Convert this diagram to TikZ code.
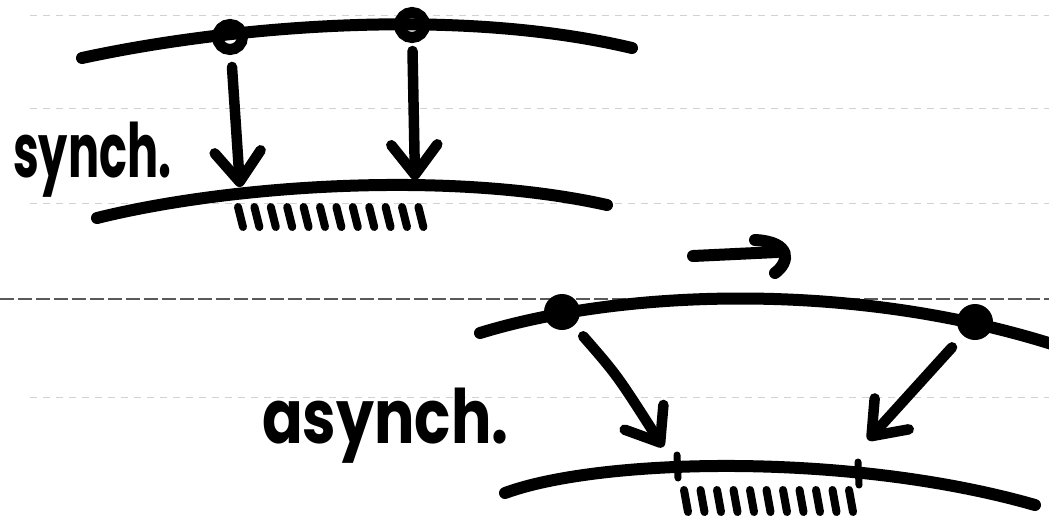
\documentclass[tikz,border=0pt]{standalone}
\usepackage{fontspec}
\newfontfamily\handfont{Poppins}
\usetikzlibrary{arrows.meta}
\begin{document}
\begin{tikzpicture}[x=1pt,y=-1pt,
  ink/.style={line width=12pt, line cap=round, black},
  hookink/.style={line width=12pt, line cap=round, black},
  hatch/.style={line width=8pt, line cap=round, black},
  tickmark/.style={line width=7pt, line cap=round, black},
  hollowdot/.style={circle, draw, line width=11pt, minimum size=25pt, inner sep=0pt},
  soliddot/.style={circle, fill=black, minimum size=36pt, inner sep=0pt},
  arr/.style={line width=10.5pt, line cap=round, -{Straight Barb[length=30pt,width=46pt,round]}},
  rulefaint/.style={gray!35, line width=1pt, dash pattern=on 7pt off 6pt},
  ruledark/.style={gray!70!black, line width=1.8pt, dash pattern=on 14pt off 4pt},
  handlabel/.style={font=\handfont\bfseries\fontsize{60}{60}\selectfont, inner sep=0pt, anchor=base west}
]
\useasboundingbox[fill=white] (0,0) rectangle (1049,520);

% notebook rules
\draw[rulefaint] (30,15) -- (1049,15);
\draw[rulefaint] (30,108) -- (1049,108);
\draw[rulefaint] (30,203) -- (1049,203);
\draw[ruledark] (0,299) -- (1049,299);
\draw[rulefaint] (30,397) -- (1049,397);

% ---------- synchronous ----------
\draw[ink] (82,58) .. controls (220,28) and (450,5) .. (632,48);
\node[hollowdot] (p1) at (230,37) {};
\node[hollowdot] (p2) at (412,25) {};

\draw[ink] (97,218) .. controls (230,185) and (450,170) .. (607,205);
\coordinate (q1) at (240,187);
\coordinate (q2) at (415,180);
\draw[arr, shorten <=12pt] (p1) -- (q1);
\draw[arr, shorten <=8pt] (p2) -- (q2);

\foreach \x in {238,254.4,...,420}
  \draw[hatch] (\x,207) -- ({\x+5},227);

\node[handlabel] (sync) at (13,177) {\scalebox{0.77}[1.25]{synch.}};

% ---------- small arrow ----------
\coordinate (m1) at (693,256);
\coordinate (m2) at (777,252);
\coordinate (h1) at (755,240);
\coordinate (h2) at (775,273);
\draw[hookink] (m1) -- (m2);
\draw[hookink] (h1) .. controls (792,242) and (790,262) .. (h2);

% ---------- asynchronous ----------
\draw[ink] (480,333) .. controls (620,290) and (850,280) .. (1055,345);
\node[soliddot] (s1) at (562,312) {};
\node[soliddot] (s2) at (975,322) {};

\draw[ink] (505,493) .. controls (600,458) and (850,452) .. (1035,505);
\draw[tickmark] (677,455) -- (678,478);
\draw[tickmark] (858,462) -- (859,485);

\coordinate (q3) at (663,447);
\coordinate (q4) at (868,440);
\draw[arr, shorten <=14pt] (s1) .. controls (617,375) .. (q3);
\draw[arr, shorten <=16pt] (s2) -- (q4);

\foreach \x in {684,700.5,...,852}
  \draw[hatch] (\x,490) -- ({\x+4},512);

\node[handlabel] (async) at (262,443) {\scalebox{1.0}[1.25]{asynch.}};
\end{tikzpicture}
\end{document}
